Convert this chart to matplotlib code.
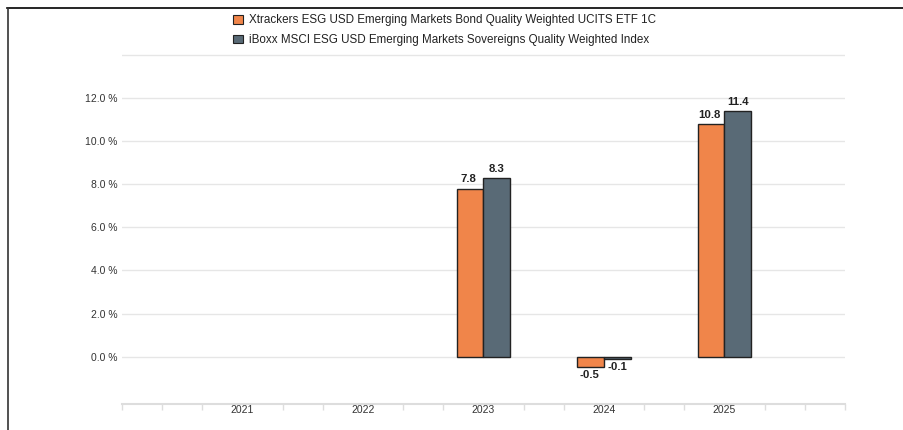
import matplotlib.pyplot as plt
from matplotlib.lines import Line2D
from matplotlib.patches import Patch
import numpy as np

plt.rcParams['font.family'] = ['Liberation Sans', 'DejaVu Sans']

years = ['2021', '2022', '2023', '2024', '2025']
fund = [None, None, 7.8, -0.5, 10.8]
index = [None, None, 8.3, -0.1, 11.4]
fund_name = 'Xtrackers ESG USD Emerging Markets Bond Quality Weighted UCITS ETF 1C'
index_name = 'iBoxx MSCI ESG USD Emerging Markets Sovereigns Quality Weighted Index'

orange = '#f0854a'
slate = '#596a76'
edge = '#222222'

fig = plt.figure(figsize=(9.04, 4.30), dpi=100)
ax = fig.add_axes([122 / 904, 26 / 430, 723 / 904, 351 / 430])

x = np.arange(len(years)) + 1
w = 0.22
for xi, f, i in zip(x, fund, index):
    if f is None:
        continue
    ax.bar(xi - w / 2, f, w, color=orange, edgecolor=edge, linewidth=1, zorder=3)
    ax.bar(xi + w / 2, i, w, color=slate, edgecolor=edge, linewidth=1, zorder=3)
    for xx, v in ((xi - w / 2, f), (xi + w / 2, i)):
        dx = -1 if xx < xi else 0
        if v >= 0:
            ax.annotate(f'{v:.1f}', (xx, v), xytext=(dx, 3), textcoords='offset points',
                        ha='center', va='bottom', fontsize=8.2, fontweight='bold', color='#222222')
        else:
            ax.annotate(f'{v:.1f}', (xx, v), xytext=(dx, -2), textcoords='offset points',
                        ha='center', va='top', fontsize=8.2, fontweight='bold', color='#222222')

ax.set_xlim(0, 6)
ax.set_ylim(-2.2, 14.1)
ax.set_yticks(np.arange(0, 14.1, 2))
ax.set_yticklabels([f'{v:.1f} %' for v in np.arange(0, 12.1, 2)] + [''])
ax.yaxis.grid(True, color='#e6e6e6', linewidth=1, zorder=0)
ax.tick_params(axis='y', length=0, pad=3, labelsize=7.5, labelcolor='#333333')

ax.set_xticks(x)
ax.set_xticklabels(years)
ax.set_xticks(np.arange(0, 6.01, 1 / 3), minor=True)
ax.tick_params(axis='x', which='major', length=0, pad=1, labelsize=7.5, labelcolor='#333333')
ax.tick_params(axis='x', which='minor', length=4, color='#dddddd', width=1)

for s in ('top', 'right', 'left'):
    ax.spines[s].set_visible(False)
ax.spines['bottom'].set_color('#dddddd')
ax.spines['bottom'].set_linewidth(1.5)

handles = [Patch(facecolor=orange, edgecolor=edge, linewidth=0.8),
           Patch(facecolor=slate, edgecolor=edge, linewidth=0.8)]
fig.legend(handles, [fund_name, index_name], loc='upper left', bbox_to_anchor=(223 / 904, 1 - 4 / 430),
           frameon=False, fontsize=8.4, handlelength=0.8, handleheight=0.8, handletextpad=0.5,
           labelspacing=0.65, labelcolor='#222222')

# outer frame
fig.add_artist(Line2D([7 / 904, 1], [1 - 7.5 / 430, 1 - 7.5 / 430], color='black', linewidth=1.2))
fig.add_artist(Line2D([7.5 / 904, 7.5 / 904], [0, 1 - 7.5 / 430], color='#333333', linewidth=1.2))

fig.savefig('out.png', dpi=100)
